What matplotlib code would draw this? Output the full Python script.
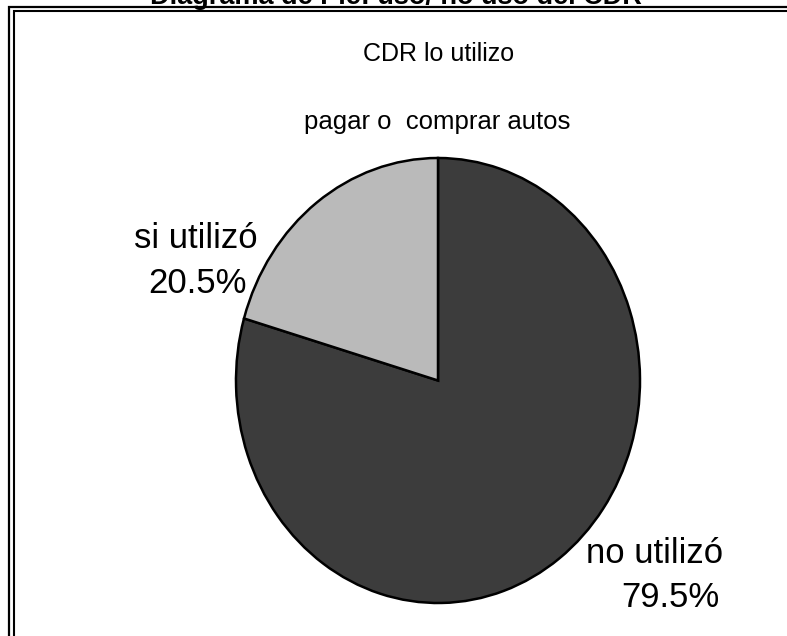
import matplotlib
matplotlib.use("Agg")
import matplotlib.pyplot as plt
from matplotlib.patches import Rectangle

plt.rcParams['font.family'] = ['Liberation Sans', 'DejaVu Sans']

# data
categories = ['no utilizó', 'si utilizó']
values = [79.5, 20.5]
colors = ['#3c3c3c', '#bababa']

title = 'Diagrama de Pie: uso/ no uso del CDR'
subtitle = 'CDR lo utilizo'
question = 'pagar o  comprar autos'

W, H = 787, 636
fig = plt.figure(figsize=(W / 100, H / 100), dpi=100)

def fx(px):
    return px / W

def fy(py):
    return 1 - py / H

# double frame, runs off the right and bottom edges
for x0, y0, lw in [(9, 7, 1.6), (13.5, 10.8, 1.5)]:
    fig.patches.append(Rectangle((fx(x0), fy(H + 20)), fx(W + 40), fy(y0) - fy(H + 20),
                                 transform=fig.transFigure, fill=False,
                                 edgecolor='black', linewidth=lw))

# pie in a stretched axes (slightly elliptical like the original)
ax = fig.add_axes([fx(236), fy(603), fx(640) - fx(236), fy(158) - fy(603)])
wedges, _ = ax.pie(values, colors=colors, startangle=90, counterclock=False,
                   wedgeprops=dict(edgecolor='black', linewidth=1.8))
ax.set_aspect('auto')
ax.set_xlim(-1, 1)
ax.set_ylim(-1, 1)
ax.axis('off')

# title is clipped at the top edge in the original
fig.text(fx(396), fy(4), title, ha='center', va='baseline', fontsize=19.5, fontweight='bold')
fig.text(fx(439), fy(61), subtitle, ha='center', va='baseline', fontsize=18)
fig.text(fx(437), fy(129), question, ha='center', va='baseline', fontsize=18.5)

pct = [f'{v:.1f}%' for v in values]
fig.text(fx(196), fy(248), categories[1], ha='center', va='baseline', fontsize=25)
fig.text(fx(198), fy(293), pct[1], ha='center', va='baseline', fontsize=25)
fig.text(fx(655), fy(563), categories[0], ha='center', va='baseline', fontsize=25)
fig.text(fx(670), fy(607), pct[0], ha='center', va='baseline', fontsize=25)

fig.savefig('out.png', dpi=100)
